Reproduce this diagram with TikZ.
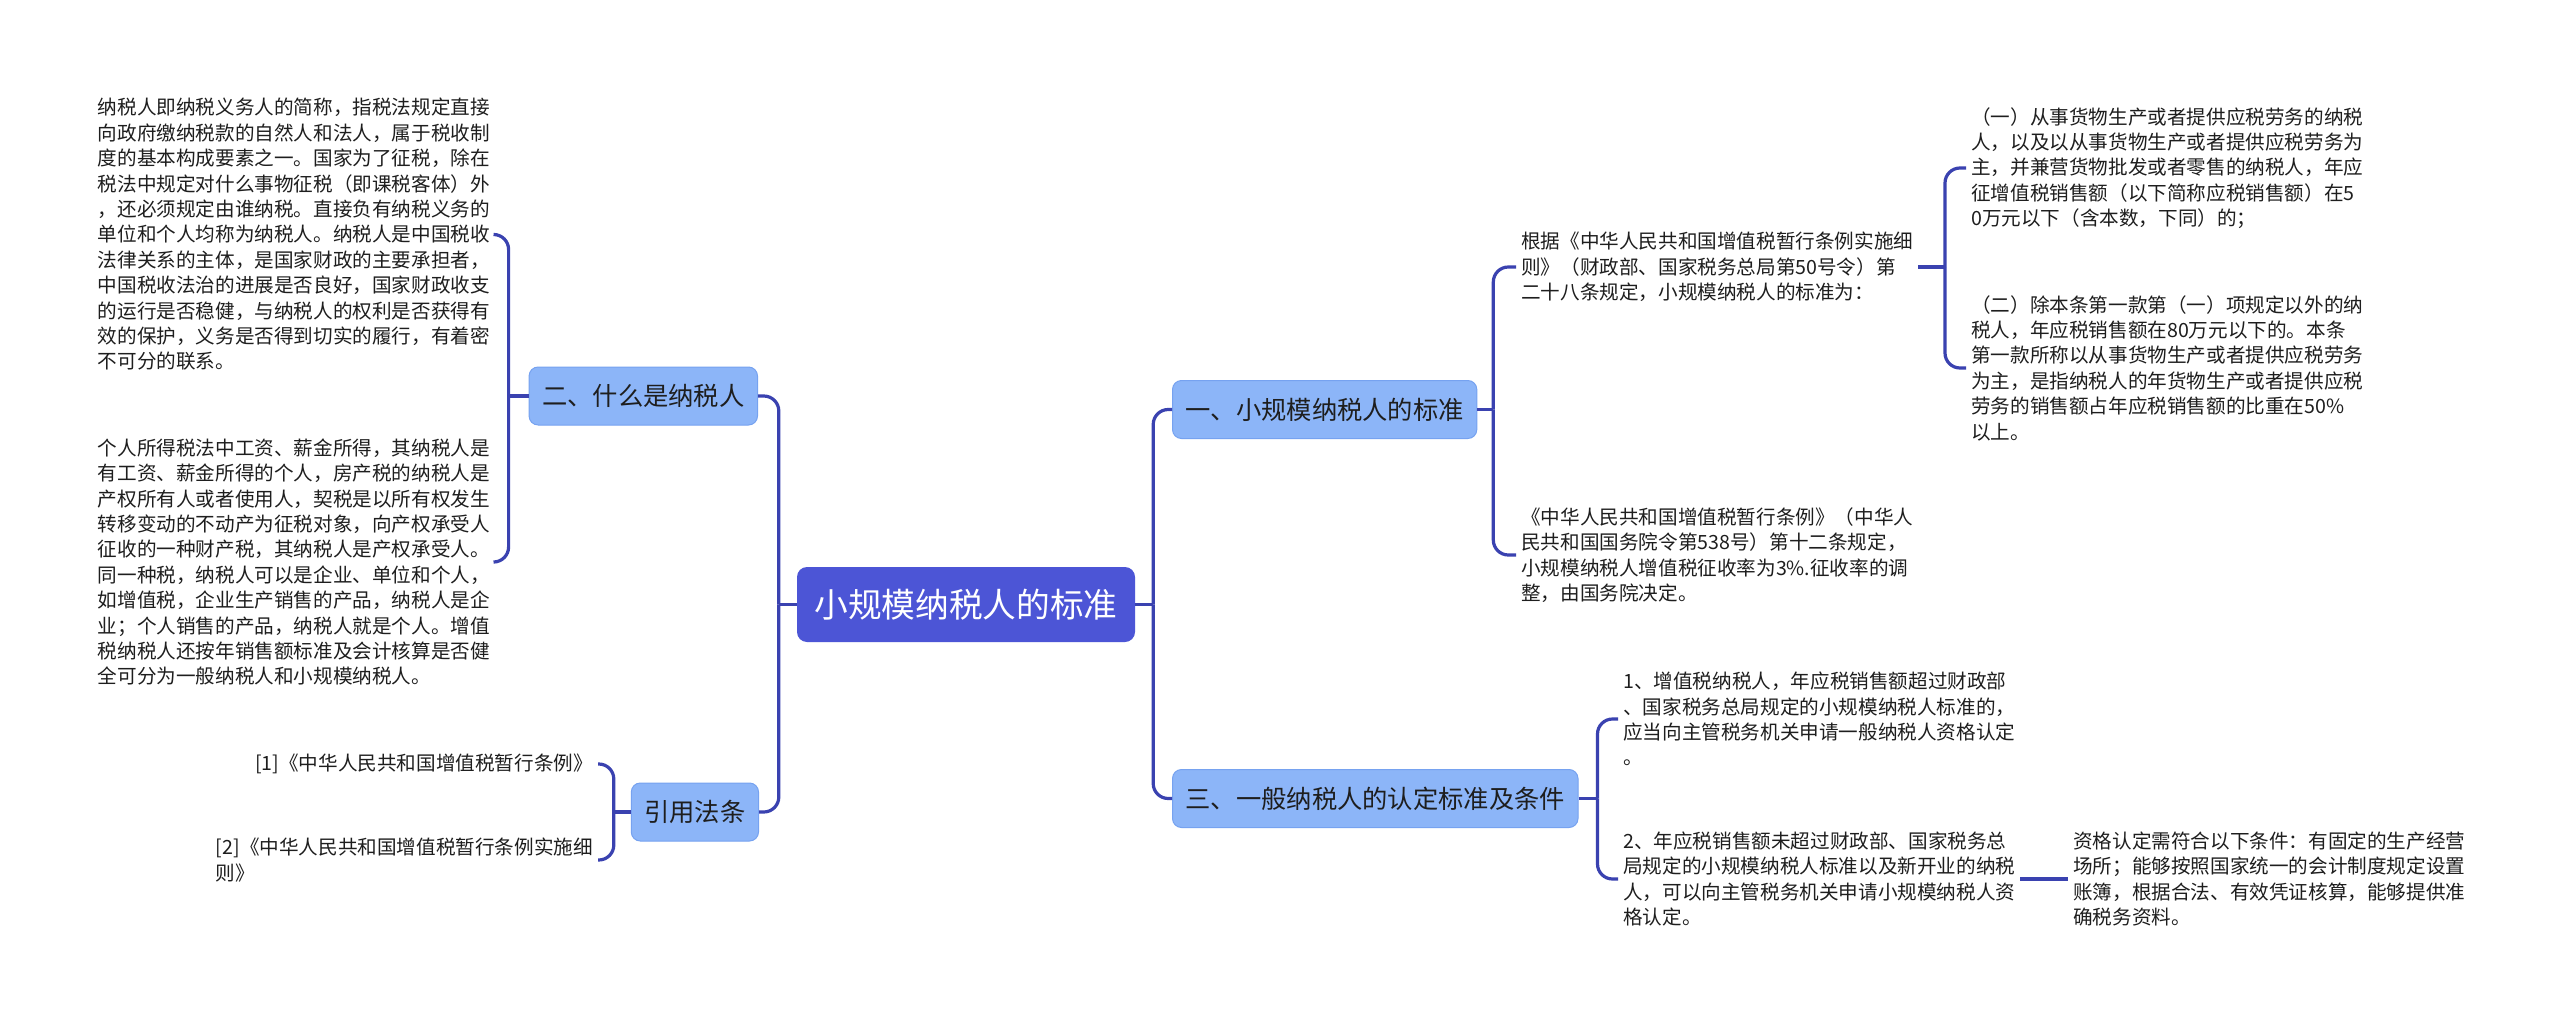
\documentclass[tikz,border=0pt]{standalone}
\usepackage{fontspec}
\setmainfont{Noto Sans CJK SC}
\usetikzlibrary{calc}
\definecolor{linkblue}{RGB}{58,66,176}
\definecolor{rootblue}{RGB}{76,85,214}
\definecolor{branchblue}{RGB}{140,181,248}
\definecolor{branchedge}{RGB}{118,162,240}
\definecolor{leaftext}{RGB}{30,30,30}
\begin{document}
\begin{tikzpicture}[x=1pt,y=-1pt,
  link/.style={draw=linkblue,line width=3.2pt,rounded corners=15pt},
  rootbox/.style={fill=rootblue,rounded corners=10pt,text=white,minimum width=338pt,
    minimum height=75pt,font=\fontsize{33.7pt}{40pt}\selectfont},
  branch/.style={fill=branchblue,draw=branchedge,line width=1pt,rounded corners=9pt,
    inner xsep=13pt,minimum height=58pt,text=leaftext,font=\fontsize{25.3pt}{30pt}\selectfont},
  leaf/.style={align=left,inner xsep=5pt,inner ysep=2pt,text=leaftext,
    font=\fontsize{19.6pt}{25.4pt}\selectfont}]
  \fill[white] (0,0) rectangle (2560,1025);
  \useasboundingbox (0,0) rectangle (2560,1025);

  % centre
  \node[rootbox] (root) at (966,604.5) {小规模纳税人的标准};

  % main branches
  \node[branch,anchor=west] (std)  at (1172,409.5) {一、小规模纳税人的标准};
  \node[branch,anchor=west] (gen)  at (1172,798.5) {三、一般纳税人的认定标准及条件};
  \node[branch,anchor=east] (what) at (758,396)    {二、什么是纳税人};
  \node[branch,anchor=east] (law)  at (759,812)    {引用法条};

  % what is a taxpayer
  \node[leaf,anchor=east] (what1) at (495,234.5) {纳税人即纳税义务人的简称，指税法规定直接\\
    向政府缴纳税款的自然人和法人，属于税收制\\度的基本构成要素之一。国家为了征税，除在\\
    税法中规定对什么事物征税（即课税客体）外\\，还必须规定由谁纳税。直接负有纳税义务的\\
    单位和个人均称为纳税人。纳税人是中国税收\\法律关系的主体，是国家财政的主要承担者，\\
    中国税收法治的进展是否良好，国家财政收支\\的运行是否稳健，与纳税人的权利是否获得有\\
    效的保护，义务是否得到切实的履行，有着密\\不可分的联系。};
  \node[leaf,anchor=east] (what2) at (495,562) {个人所得税法中工资、薪金所得，其纳税人是\\
    有工资、薪金所得的个人，房产税的纳税人是\\产权所有人或者使用人，契税是以所有权发生\\
    转移变动的不动产为征税对象，向产权承受人\\征收的一种财产税，其纳税人是产权承受人。\\
    同一种税，纳税人可以是企业、单位和个人，\\如增值税，企业生产销售的产品，纳税人是企\\
    业；个人销售的产品，纳税人就是个人。增值\\税纳税人还按年销售额标准及会计核算是否健\\
    全可分为一般纳税人和小规模纳税人。};

  % cited laws
  \node[leaf,anchor=east] (law1) at (598,764) {[1]《中华人民共和国增值税暂行条例》};
  \node[leaf,anchor=east] (law2) at (598,860) {[2]《中华人民共和国增值税暂行条例实施细\\则》};

  % small-scale standard
  \node[leaf,anchor=west] (stdA) at (1516,267) {根据《中华人民共和国增值税暂行条例实施细\\
    则》（财政部、国家税务总局第50号令）第\\二十八条规定，小规模纳税人的标准为：};
  \node[leaf,anchor=west] (stdB) at (1516,555) {《中华人民共和国增值税暂行条例》（中华人\\
    民共和国国务院令第538号）第十二条规定，\\小规模纳税人增值税征收率为3\%.征收率的调\\
    整，由国务院决定。};
  \node[leaf,anchor=west] (stdA1) at (1966,168) {（一）从事货物生产或者提供应税劳务的纳税\\
    人，以及以从事货物生产或者提供应税劳务为\\主，并兼营货物批发或者零售的纳税人，年应\\
    征增值税销售额（以下简称应税销售额）在5\\0万元以下（含本数，下同）的；};
  \node[leaf,anchor=west] (stdA2) at (1966,368) {（二）除本条第一款第（一）项规定以外的纳\\
    税人，年应税销售额在80万元以下的。本条\\第一款所称以从事货物生产或者提供应税劳务\\
    为主，是指纳税人的年货物生产或者提供应税\\劳务的销售额占年应税销售额的比重在50\%\\
    以上。};

  % general taxpayer
  \node[leaf,anchor=west] (gen1) at (1618,719) {1、增值税纳税人，年应税销售额超过财政部\\
    、国家税务总局规定的小规模纳税人标准的，\\应当向主管税务机关申请一般纳税人资格认定\\。};
  \node[leaf,anchor=west] (gen2) at (1618,879) {2、年应税销售额未超过财政部、国家税务总\\
    局规定的小规模纳税人标准以及新开业的纳税\\人，可以向主管税务机关申请小规模纳税人资\\
    格认定。};
  \node[leaf,anchor=west] (gen2a) at (2068,879) {资格认定需符合以下条件：有固定的生产经营\\
    场所；能够按照国家统一的会计制度规定设置\\账簿，根据合法、有效凭证核算，能够提供准\\
    确税务资料。};

  % links
  \coordinate (rs) at ($(root.east)+(18,0)$);
  \coordinate (ls) at ($(root.west)+(-18,0)$);
  \draw[link] (root.east) -- (rs);
  \draw[link] (rs) |- (std.west);
  \draw[link] (rs) |- (gen.west);
  \draw[link] (root.west) -- (ls);
  \draw[link] (ls) |- (what.east);
  \draw[link] (ls) |- (law.east);

  \coordinate (whats) at ($(what.west)+(-20,0)$);
  \draw[link] (what.west) -- (whats);
  \foreach \n in {what1,what2} \draw[link] (whats) |- (\n.east);

  \coordinate (laws) at ($(law.west)+(-17,0)$);
  \draw[link] (law.west) -- (laws);
  \foreach \n in {law1,law2} \draw[link] (laws) |- (\n.east);

  \coordinate (stds) at ($(std.east)+(16,0)$);
  \draw[link] (std.east) -- (stds);
  \foreach \n in {stdA,stdB} \draw[link] (stds) |- (\n.west);

  \coordinate (stdAs) at ($(stdA1.west |- stdA.east)+(-21,0)$);
  \draw[link] (stdA.east) -- (stdAs);
  \foreach \n in {stdA1,stdA2} \draw[link] (stdAs) |- (\n.west);

  \coordinate (gens) at ($(gen.east)+(19,0)$);
  \draw[link] (gen.east) -- (gens);
  \foreach \n in {gen1,gen2} \draw[link] (gens) |- (\n.west);

  \draw[link] (gen2.east) -- (gen2a.west);
\end{tikzpicture}
\end{document}
